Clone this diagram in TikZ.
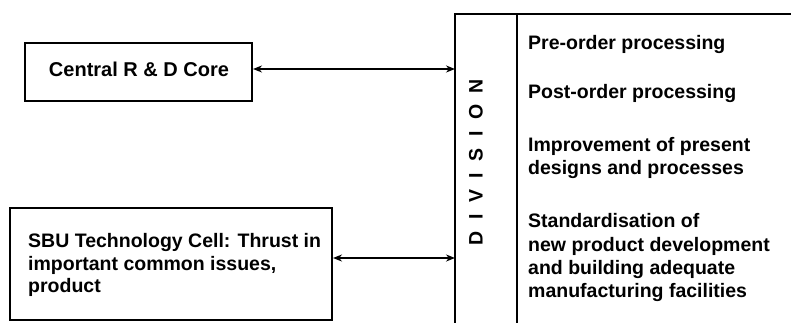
\documentclass[tikz,border=0pt]{standalone}
\usepackage{fontspec}
\setmainfont{Liberation Sans}
\usetikzlibrary{arrows.meta}
\begin{document}
\begin{tikzpicture}[x=1pt,y=-1pt,
  box/.style={draw,line width=2pt,inner sep=0pt},
  lbl/.style={font=\bfseries\fontsize{19.5}{24}\selectfont,anchor=base west,inner sep=0pt},
  conn/.style={line width=1.8pt,{Stealth[length=9pt,width=7pt]}-{Stealth[length=9pt,width=7pt]}}]
\useasboundingbox (0,0) rectangle (791,323);
\node[box,minimum width=227pt,minimum height=58pt] (core) at (138.5,72) {};
\node[lbl,anchor=base,font=\bfseries\fontsize{20}{24}\selectfont] (coret) at (139,77) {Central R \& D Core};
\node[box,minimum width=322pt,minimum height=112pt] (sbu) at (171,264) {};
\node[lbl] (s1) at (28,247) {SBU Technology Cell: Thrust in};
\node[lbl] (s2) at (28,270) {important common issues,};
\node[lbl] (s3) at (28,292) {product};
\coordinate (dtl) at (455,14);
\coordinate (dbl) at (455,323);
\coordinate (dtr) at (791,14);
\coordinate (mt) at (517,14);
\coordinate (mb) at (517,323);
\draw[line width=2pt] (dbl) -- (dtl) -- (dtr);
\draw[line width=2pt] (mt) -- (mb);
\coordinate (a1) at (455,69);
\coordinate (a2) at (455,258);
\draw[conn] (core.east |- a1) -- (a1);
\draw[conn] (sbu.east |- a2) -- (a2);
\node[lbl,anchor=center,rotate=90] (div) at (476,162) {D\hspace{11.5pt}I\hspace{11.5pt}V\hspace{11.5pt}I\hspace{11.5pt}S\hspace{11.5pt}I\hspace{11.5pt}O\hspace{11.5pt}N};
\node[lbl] (t1) at (528,50) {Pre-order processing};
\node[lbl] (t2) at (528,99) {Post-order processing};
\node[lbl] (t3) at (528,151) {Improvement of present};
\node[lbl] (t3b) at (528,175) {designs and processes};
\node[lbl] (t4) at (528,227) {Standardisation of};
\node[lbl] (t4b) at (528,251) {new product development};
\node[lbl] (t4c) at (528,274) {and building adequate};
\node[lbl] (t4d) at (528,297) {manufacturing facilities};
\end{tikzpicture}
\end{document}
